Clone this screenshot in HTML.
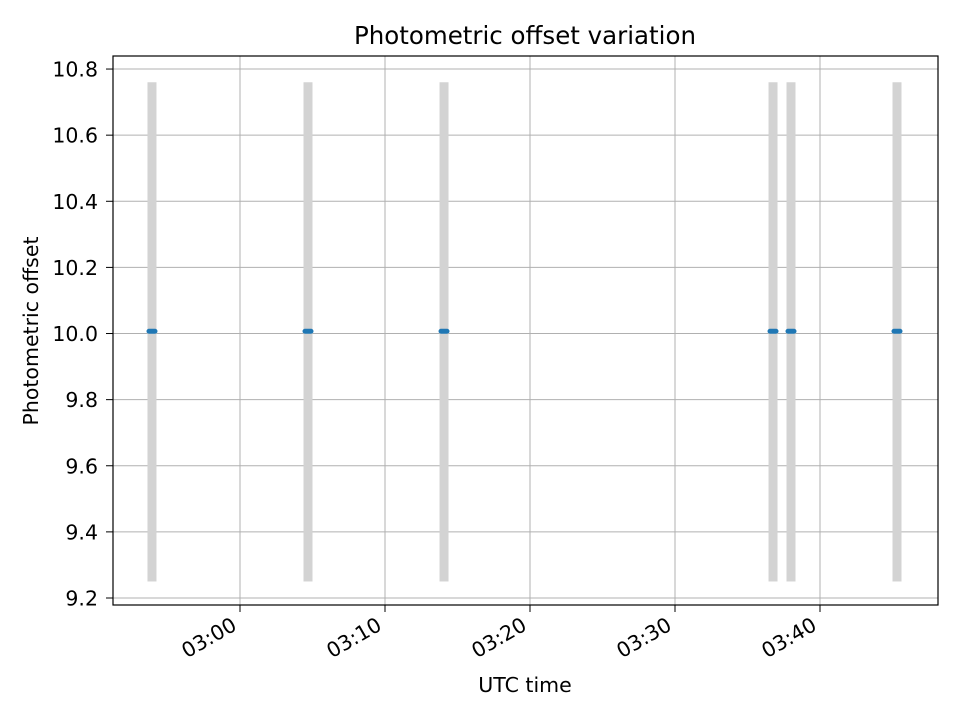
<!DOCTYPE html>
<html><head><meta charset="utf-8"><style>
body{margin:0;background:#fff}
svg text{font-family:"DejaVu Sans","Liberation Sans",sans-serif;fill:#000}
</style></head><body>
<svg id="chart" width="960" height="720" viewBox="0 0 960 720" xmlns="http://www.w3.org/2000/svg">
<rect width="960" height="720" fill="#fff"/>
<text x="525" y="44" font-size="24.5" text-anchor="middle">Photometric offset variation</text>
<g id="grid"></g><g id="bars"></g><g id="points"></g><g id="ticks"></g>
<rect x="113" y="56" width="825" height="549" fill="none" stroke="#000" stroke-width="1.2"/>
<text x="525" y="692" font-size="20.5" text-anchor="middle">UTC time</text>
<text transform="translate(38,331) rotate(-90)" font-size="20.5" text-anchor="middle">Photometric offset</text>
</svg>
<script>
const obsMinutes=[-6.07,4.69,14.07,36.76,38.0,45.31];
const offsets=[10.007,10.007,10.007,10.007,10.007,10.007];
const barLow=[9.25,9.25,9.25,9.25,9.25,9.25];
const barHigh=[10.76,10.76,10.76,10.76,10.76,10.76];
const yTicks=[9.2,9.4,9.6,9.8,10.0,10.2,10.4,10.6,10.8];
const xTicks=[0,10,20,30,40];
const xTickLabels=["03:00","03:10","03:20","03:30","03:40"];
const NS="http://www.w3.org/2000/svg";
const xs=m=>240+m*14.5;
const ys=v=>598-(v-9.2)*330.6;
function mk(t,a,p){const e=document.createElementNS(NS,t);for(const k in a)e.setAttribute(k,a[k]);p.appendChild(e);return e;}
const grid=document.getElementById('grid'),ticks=document.getElementById('ticks'),bars=document.getElementById('bars'),pts=document.getElementById('points');
yTicks.forEach(v=>{const y=ys(v);
 const g=mk('line',{x1:113,x2:938,y1:y,y2:y,stroke:'#b0b0b0','stroke-width':1},grid);
 
 
 const tk=mk('line',{x1:106,x2:113,y1:y,y2:y,stroke:'#000'},ticks);
 
 
 const t=mk('text',{x:98,y:y+7.5,'font-size':20.5,'text-anchor':'end'},ticks);
 t.textContent=v.toFixed(1);
 
 
});
xTicks.forEach((m,i)=>{const x=xs(m);
 const g=mk('line',{x1:x,x2:x,y1:56,y2:605,stroke:'#b0b0b0','stroke-width':1},grid);
 
 
 const tk=mk('line',{x1:x,x2:x,y1:605,y2:612,stroke:'#000'},ticks);
 
 
 const tx=x-2,ty=629;
 const t=mk('text',{x:tx,y:ty,'font-size':20.5,'text-anchor':'end',transform:`rotate(-30 ${tx} ${ty})`},ticks);
 t.textContent=xTickLabels[i];
 
 
});
obsMinutes.forEach((m,i)=>{const x=xs(m);
 const b=mk('rect',{x:x-4.5,y:ys(barHigh[i]),width:9,height:ys(barLow[i])-ys(barHigh[i]),fill:'#d3d3d3'},bars);
 
 
 const p=mk('line',{x1:x-3,x2:x+3,y1:ys(offsets[i]),y2:ys(offsets[i]),stroke:'#1f77b4','stroke-width':5,'stroke-linecap':'round'},pts);
 
 
});
</script>
</body></html>
